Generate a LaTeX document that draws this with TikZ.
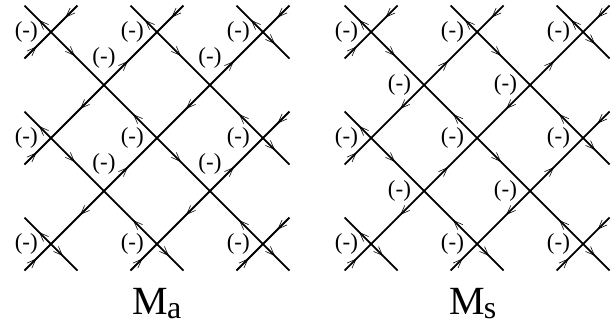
\documentclass[tikz,border=0pt]{standalone}
\usepackage{fontspec}
\setmainfont{Liberation Serif}
\usetikzlibrary{arrows.meta, positioning, decorations.markings}

\begin{document}
\begin{tikzpicture}[
      x=53pt, y=53pt,
      bond/.style={line width=1.8pt, postaction={decorate}, decoration={markings,
                   mark=at position 0.45 with {\arrow{Straight Barb[length=9pt, width=7pt, line width=0.6pt]}}}},
      sgn/.style={inner sep=0pt, font=\fontsize{23}{23}\selectfont},
      title/.style={anchor=base, inner sep=0pt, font=\fontsize{40}{40}\selectfont}
    ]
    \useasboundingbox (-0.962,-5.547) rectangle (10.604,0.604);
    % two lattices: a = M_a (left), s = M_s (right); odd indices are crossings, 0 and 10 the rim
    \foreach \p/\dx in {a/0, s/6.04} {
      \begin{scope}[shift={(\dx,0)}]
        \foreach \m in {0,...,10} \foreach \n in {0,...,10}
          \coordinate (\p-\m-\n) at ({(\m-1)/2}, {-(\n-1)/2});
        % each bond drawn tail -> head
        \foreach \t/\h in {1-1/0-0, 1-1/3-3, 5-1/4-0, 5-1/7-3, 9-1/8-0, 9-1/10-2,
                           1-5/0-4, 1-5/3-7, 5-5/3-3, 5-5/7-7, 9-5/7-3, 9-5/10-6,
                           1-9/0-8, 1-9/2-10, 5-9/3-7, 5-9/6-10, 9-9/7-7, 9-9/10-10,
                           3-3/5-1, 3-3/1-5, 7-3/9-1, 7-3/5-5,
                           3-7/5-5, 3-7/1-9, 7-7/9-5, 7-7/5-9,
                           2-0/1-1, 0-2/1-1, 6-0/5-1, 10-0/9-1, 0-6/1-5,
                           10-4/9-5, 0-10/1-9, 4-10/5-9, 10-8/9-9, 8-10/9-9}
          \draw[bond] (\p-\t) -- (\p-\h);
      \end{scope}
    }
    % signs
    \foreach \v in {1-1, 5-1, 9-1, 1-5, 5-5, 9-5, 1-9, 5-9, 9-9}
      \node[sgn, left=13pt of a-\v] (la-\v) {(-)};
    \foreach \v in {3-3, 7-3, 3-7, 7-7}
      \node[sgn, above=16.5pt of a-\v] (la-\v) {(-)};
    \foreach \v in {1-1, 5-1, 9-1, 3-3, 7-3, 1-5, 5-5, 9-5, 3-7, 7-7, 1-9, 5-9, 9-9}
      \node[sgn, left=13pt of s-\v] (ls-\v) {(-)};

    \node[title] (ma) at (2,-5.33) {M\kern-1pt\raisebox{-4pt}{\fontsize{32}{32}\selectfont a}};
    \node[title] (ms) at (7.96,-5.33) {M\kern-1pt\raisebox{-4pt}{\fontsize{32}{32}\selectfont s}};
  \end{tikzpicture}
\end{document}
